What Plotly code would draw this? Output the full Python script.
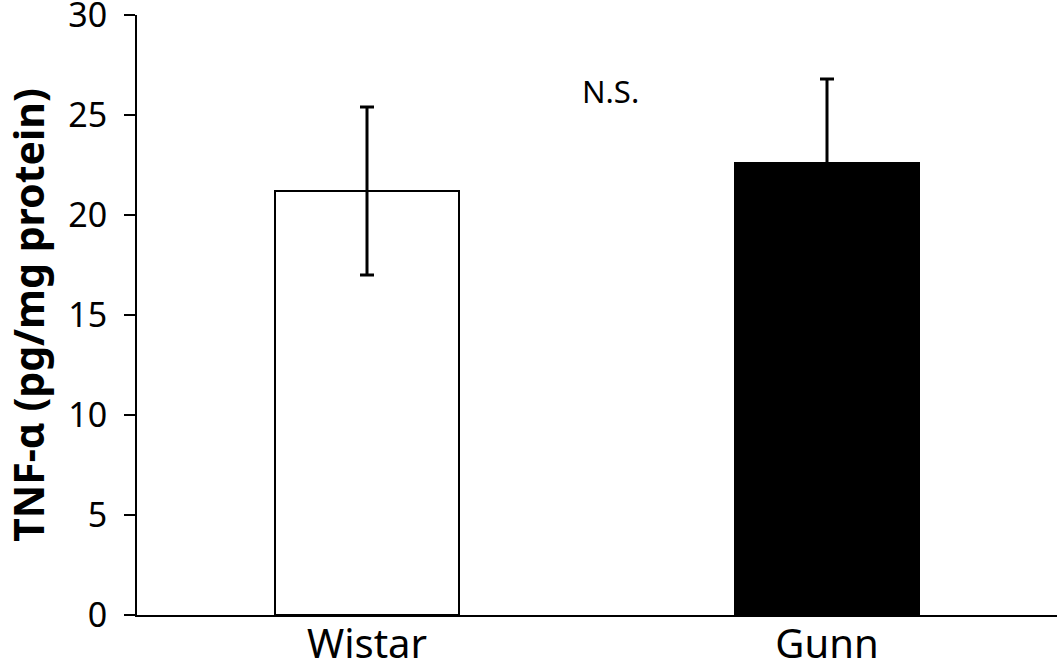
import plotly.graph_objects as go

groups = ['Wistar', 'Gunn']
tnf = [21.2, 22.6]
sem = [4.2, 4.2]
bar_colors = ['white', 'black']
y_ticks = [0, 5, 10, 15, 20, 25, 30]

fig = go.Figure()
fig.add_trace(go.Bar(
    x=groups, y=tnf,
    marker=dict(color=bar_colors, line=dict(color='black', width=2)),
    width=0.4,
    error_y=dict(type='data', array=sem, color='black', thickness=3, width=7),
    showlegend=False,
))

fig.add_annotation(x=0.53, y=26.2, text='N.S.', showarrow=False,
                   font=dict(size=31, color='black'))

fig.update_layout(
    width=1057, height=665,
    margin=dict(l=137, r=0, t=15, b=50),
    plot_bgcolor='white', paper_bgcolor='white',
    font=dict(family='Noto Sans', color='black'),
)
fig.update_xaxes(
    range=[-0.5, 1.5], showline=True, linecolor='black', linewidth=2,
    ticks='', tickfont=dict(size=40), showgrid=False, automargin=False,
    ticklabelstandoff=-7,
)
fig.update_yaxes(
    range=[0, 30], tickvals=y_ticks, showline=True, linecolor='black', linewidth=2,
    ticks='outside', ticklen=11, tickwidth=2, tickcolor='black',
    tickfont=dict(size=34), showgrid=False, zeroline=False, automargin=False,
    ticklabelstandoff=10, ticklabeloverflow='allow',
    title=dict(text='<b>TNF-α (pg/mg protein)</b>', font=dict(size=41), standoff=42),
)

# the page has a default 8px body margin, drop it so the figure sits at 0,0
fig.write_html('out.html', config={'displayModeBar': False},
               post_script="document.body.style.margin='0';")
